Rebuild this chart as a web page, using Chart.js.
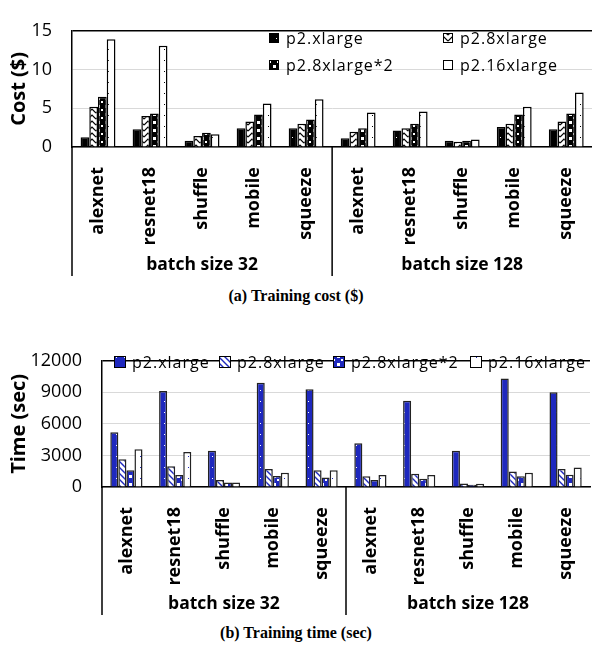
<!DOCTYPE html>
<html><head><meta charset="utf-8">
<script src="https://cdn.jsdelivr.net/npm/chart.js@4.4.1/dist/chart.umd.min.js"></script>
<style>
html,body{margin:0;padding:0;width:592px;height:648px;overflow:hidden;background:#fff;position:relative}
canvas{position:absolute;left:0;display:block}
.cap{position:absolute;left:0;width:592px;text-align:center;font:bold 16px 'Liberation Serif',serif;line-height:18px;color:#000}
</style></head>
<body>
<canvas id="c1" width="600" height="285" style="top:0"></canvas>
<div class="cap" style="top:287px">(a) Training cost ($)</div>
<canvas id="c2" width="600" height="290" style="top:330px"></canvas>
<div class="cap" style="top:624px">(b) Training time (sec)</div>
<script>
// ---- data ----
const models = ['alexnet','resnet18','shuffle','mobile','squeeze'];
const groups = ['batch size 32','batch size 128'];
const categories = [...models, ...models];
const seriesNames = ['p2.xlarge','p2.8xlarge','p2.8xlarge*2','p2.16xlarge'];

const costXlarge = [1.27, 2.3, 0.82, 2.43, 2.43, 1.12, 2.13, 0.82, 2.58, 2.28];
const cost8x     = [5.19, 4.0, 1.42, 3.28, 2.99, 1.98, 2.43, 0.67, 2.99, 3.28];
const cost8x2    = [6.5, 4.33, 1.83, 4.18, 3.55, 2.43, 2.99, 0.82, 4.18, 4.33];
const cost16x    = [13.9, 13.06, 1.64, 5.6, 6.16, 4.44, 4.59, 0.97, 5.19, 7.02];

const timeXlarge = [5200, 9120, 3450, 9910, 9290, 4150, 8200, 3450, 10320, 9000];
const time8x     = [2640, 1980, 660, 1710, 1590, 1020, 1260, 330, 1470, 1710];
const time8x2    = [1590, 1140, 420, 1050, 900, 660, 780, 210, 1020, 1170];
const time16x    = [3600, 3330, 420, 1350, 1590, 1140, 1140, 300, 1350, 1860];

const costTicks = {min:0, max:15, step:5};
const timeTicks = {min:0, max:12000, step:3000};

// ---- patterns ----
function pat(ctx, w, h, draw){
  const c = document.createElement('canvas'); c.width = w; c.height = h;
  const g = c.getContext('2d'); draw(g, w, h);
  return ctx.createPattern(c, 'repeat');
}
function dots(ctx, bg, fg){ return pat(ctx, 8, 11, (g,w,h)=>{g.fillStyle=bg;g.fillRect(0,0,w,h);g.fillStyle=fg;g.fillRect(4,5,1,1);}); }
function chevron(ctx, fg){ return pat(ctx, 8, 6, (g,w,h)=>{g.fillStyle='#fff';g.fillRect(0,0,w,h);g.strokeStyle=fg;g.lineWidth=1.2;g.beginPath();g.moveTo(0,5);g.lineTo(4,1);g.lineTo(8,5);g.stroke();}); }
function diag(ctx, fg){ return pat(ctx, 6, 6, (g,w,h)=>{g.fillStyle='#fff';g.fillRect(0,0,w,h);g.strokeStyle=fg;g.lineWidth=1.4;g.beginPath();g.moveTo(-1,-1);g.lineTo(7,7);g.moveTo(-1,5);g.lineTo(1,7);g.moveTo(5,-1);g.lineTo(7,1);g.stroke();}); }
function checker(ctx, fg){ return pat(ctx, 8, 8, (g,w,h)=>{g.fillStyle=fg;g.fillRect(0,0,w,h);g.fillStyle='#fff';g.fillRect(1,1,3,3);g.fillRect(5,5,2,2);}); }

// ---- plugins ----
const decor = {
  id: 'decor',
  afterDraw(chart, args, o){
    const ctx = chart.ctx, a = chart.chartArea, x = chart.scales.x;
    ctx.save();
    ctx.strokeStyle = '#000'; ctx.lineWidth = 1.5;
    const sep = (x.getPixelForValue(4) + x.getPixelForValue(5)) / 2;
    ctx.beginPath();
    ctx.moveTo(a.left, a.bottom); ctx.lineTo(a.left, a.bottom + o.extend);
    ctx.moveTo(sep, a.bottom); ctx.lineTo(sep, a.bottom + o.extend);
    ctx.stroke();
    ctx.fillStyle = '#000'; ctx.font = 'bold 17.5px "Open Sans"';
    ctx.textAlign = 'center'; ctx.textBaseline = 'middle';
    groups.forEach((gname, gi) => {
      const cx = (x.getPixelForValue(gi*5) + x.getPixelForValue(gi*5+4)) / 2;
      ctx.fillText(gname, cx, a.bottom + o.groupY);
    });
    // legend
    ctx.font = o.legendFont; ctx.textAlign = 'left';
    try { ctx.letterSpacing = '1px'; } catch(e){}
    chart.data.datasets.forEach((ds, i) => {
      const p = o.legendPos[i], s = o.box;
      ctx.fillStyle = ds.backgroundColor;
      ctx.fillRect(p[0], p[1] - s/2, s, s);
      ctx.lineWidth = 1; ctx.strokeStyle = '#000';
      ctx.strokeRect(p[0] + 0.5, p[1] - s/2 + 0.5, s - 1, s - 1);
      ctx.fillStyle = '#000';
      ctx.fillText(ds.label, p[0] + s + o.gap, p[1] + 1);
    });
    ctx.restore();
  }
};

function makeChart(id, values, styles, tk, yTitle, yWidth, xHeight, padTop, padRight, catPct, borderCol, decorOpts){
  const el = document.getElementById(id);
  const ctx = el.getContext('2d');
  const datasets = values.map((v, i) => ({
    label: seriesNames[i], data: v,
    backgroundColor: styles[i](ctx),
    borderColor: borderCol, borderWidth: 1.5,
    categoryPercentage: catPct, barPercentage: 1
  }));
  return new Chart(ctx, {
    type: 'bar',
    data: { labels: categories, datasets },
    plugins: [decor],
    options: {
      responsive: false, animation: false,
      layout: { padding: { top: padTop, right: padRight, left: 0, bottom: 0 } },
      plugins: { legend: { display: false }, tooltip: { enabled: false }, decor: decorOpts },
      scales: {
        x: {
          grid: { display: false },
          border: { display: true, color: '#000', width: 1.5 },
          ticks: { autoSkip: false, minRotation: 90, maxRotation: 90, padding: 12, color: '#000',
                   font: { family: 'Open Sans', weight: 'bold', size: 18 } },
          afterFit(s){ s.height = xHeight; }
        },
        y: {
          min: tk.min, max: tk.max,
          ticks: { stepSize: tk.step, padding: 20, color: '#000', font: { family: 'Open Sans', size: 18 },
                   callback: v => String(v) },
          grid: { drawTicks: false,
                  color: c => (c.tick && c.tick.value === tk.max) ? '#000' : '#d9d9d9',
                  lineWidth: c => (c.tick && c.tick.value === tk.max) ? 1.5 : 1 },
          border: { display: true, color: '#000', width: 1.5 },
          title: { display: true, text: yTitle, color: '#000', padding: { top: 7, bottom: 0 },
                   font: { family: 'Open Sans', weight: 'bold', size: 20 } },
          afterFit(s){ s.width = yWidth; }
        }
      }
    }
  });
}

const BLUE = '#1E28BE';
makeChart('c1', [costXlarge, cost8x, cost8x2, cost16x],
  [c=>dots(c,'#000','#fff'), c=>chevron(c,'#000'), c=>checker(c,'#000'), c=>dots(c,'#fff','#000')],
  costTicks, 'Cost ($)', 72, 138, 13, 3, 0.67, '#000',
  { extend: 129, groupY: 118, legendFont: '16px "Open Sans"', box: 10, gap: 7,
    legendPos: [[269,38],[443,38],[269,65],[443,65]] });

makeChart('c2', [timeXlarge, time8x, time8x2, time16x],
  [c=>dots(c,BLUE,'#fff'), c=>diag(c,BLUE), c=>checker(c,BLUE), c=>dots(c,'#fff',BLUE)],
  timeTicks, 'Time (sec)', 102, 133, 21, 10, 0.66, '#222',
  { extend: 128, groupY: 117, legendFont: '16px "Open Sans"', box: 12, gap: 6,
    legendPos: [[114,32],[219,32],[333,32],[470,32]] });
</script>
</body></html>
